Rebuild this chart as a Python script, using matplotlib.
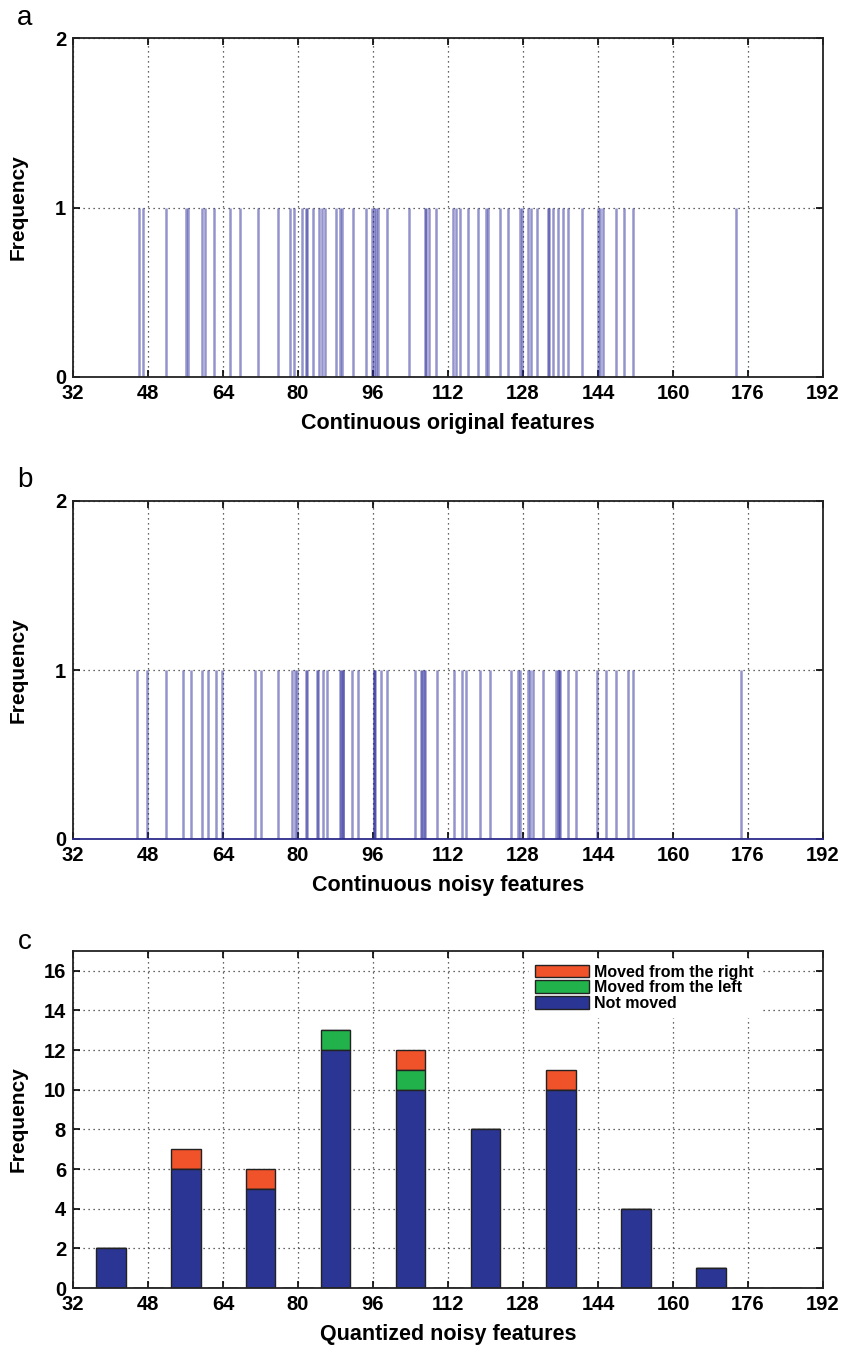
import numpy as np
import matplotlib.pyplot as plt

plt.rcParams['font.family'] = ['Liberation Sans', 'DejaVu Sans']

orig_feats = [46.0, 46.9, 51.9, 56.2, 56.5, 59.6, 60.2, 62.1, 65.4, 67.6, 71.5,
              75.7, 78.2, 79.1, 80.9, 81.8, 82.0, 83.3, 84.5, 85.1, 85.7, 88.2,
              88.9, 89.3, 91.7, 94.6, 95.7, 96.2, 96.7, 97.1, 99.0, 103.6, 107.0,
              107.4, 107.9, 109.4, 113.1, 113.6, 114.5, 116.3, 118.3, 120.2,
              120.5, 123.0, 124.8, 127.3, 127.8, 129.1, 129.6, 130.9, 133.3,
              133.5, 134.4, 135.5, 136.5, 137.6, 140.5, 144.0, 144.4, 145.1,
              147.8, 149.5, 151.5, 173.5]
noisy_feats = [45.7, 47.7, 51.8, 55.5, 57.1, 59.6, 60.8, 62.4, 63.7, 70.8, 72.0,
               75.7, 78.7, 79.3, 79.8, 81.8, 81.9, 84.1, 84.3, 85.3, 86.1, 89.0,
               89.1, 89.6, 89.7, 91.5, 92.8, 96.2, 96.3, 96.5, 97.8, 99.0, 104.9,
               106.3, 106.4, 106.9, 107.0, 109.7, 113.2, 114.9, 115.9, 118.9,
               120.9, 125.5, 126.9, 127.3, 129.1, 129.4, 130.1, 132.3, 135.0,
               135.5, 135.6, 135.8, 137.6, 139.2, 143.7, 145.6, 147.9, 150.4,
               151.5, 174.4]

# panel c, bars every 8 units (MATLAB bar, width 0.8)
centers = np.arange(40, 192, 8)
not_moved = [2, 0, 6, 0, 5, 0, 12, 0, 10, 0, 8, 0, 10, 0, 4, 0, 1, 0, 0]
from_left = [0, 0, 0, 0, 0, 0, 1, 0, 1, 0, 0, 0, 0, 0, 0, 0, 0, 0, 0]
from_right = [0, 0, 1, 0, 1, 0, 0, 0, 1, 0, 0, 0, 1, 0, 0, 0, 0, 0, 0]

xticks = np.arange(32, 193, 16)
W, H = 841, 1346
fig = plt.figure(figsize=(W / 100, H / 100), dpi=100)


def ax_at(l, t, r, b):
    return fig.add_axes([l / W, 1 - b / H, (r - l) / W, (b - t) / H])


def style(ax, xlabel):
    ax.set_xlim(32, 192)
    ax.set_xticks(xticks)
    ax.tick_params(direction='in', top=True, right=True, length=5, width=1.2,
                   labelsize=14.5, pad=5)
    for lab in ax.get_xticklabels() + ax.get_yticklabels():
        lab.set_fontweight('bold')
    ax.grid(True, linestyle=(0, (1, 3)), color='#333333', linewidth=0.9)
    ax.set_axisbelow(True)
    for s in ax.spines.values():
        s.set_linewidth(1.3)
        s.set_color('#222222')
    ax.set_xlabel(xlabel, fontsize=15.5, fontweight='bold', labelpad=7)
    ax.set_ylabel('Frequency', fontsize=15, fontweight='bold')
    ax.yaxis.set_label_coords(-0.061, 0.5)


def stems(ax, xs, xlabel):
    ax.vlines(xs, 0, 1, color='#2a2a9a', alpha=0.5, linewidth=1.8)
    ax.set_ylim(0, 2)
    ax.set_yticks([0, 1, 2])
    style(ax, xlabel)


ax_a = ax_at(73, 38, 823, 377)
stems(ax_a, orig_feats, 'Continuous original features')

ax_b = ax_at(73, 501, 823, 839)
stems(ax_b, noisy_feats, 'Continuous noisy features')
ax_b.spines['bottom'].set_color('#2b2b8a')

ax_c = ax_at(73, 951, 823, 1288)
nm = np.array(not_moved)
fl = np.array(from_left)
fr = np.array(from_right)
ax_c.bar(centers, fr, 6.4, bottom=nm + fl, color='#f0522a', edgecolor='#222222',
         linewidth=1, label='Moved from the right')
ax_c.bar(centers, fl, 6.4, bottom=nm, color='#22b24c', edgecolor='#222222',
         linewidth=1, label='Moved from the left')
ax_c.bar(centers, nm, 6.4, color='#2b3594', edgecolor='#222222',
         linewidth=1, label='Not moved')
ax_c.set_ylim(0, 17)
ax_c.set_yticks(np.arange(0, 17, 2))
style(ax_c, 'Quantized noisy features')
leg = ax_c.legend(loc='upper left', bbox_to_anchor=(0.598, 1.0), frameon=True,
                  fancybox=False, edgecolor='white', framealpha=1,
                  prop={'weight': 'bold', 'size': 11.5}, handlelength=3.4,
                  handleheight=0.85, handletextpad=0.3, labelspacing=0.05,
                  borderpad=0.35)

for lab, y in [('a', 18), ('b', 480), ('c', 942)]:
    fig.text(25 / W, 1 - y / H, lab, fontsize=20, ha='center', va='center')

fig.savefig('out.png', dpi=100)
